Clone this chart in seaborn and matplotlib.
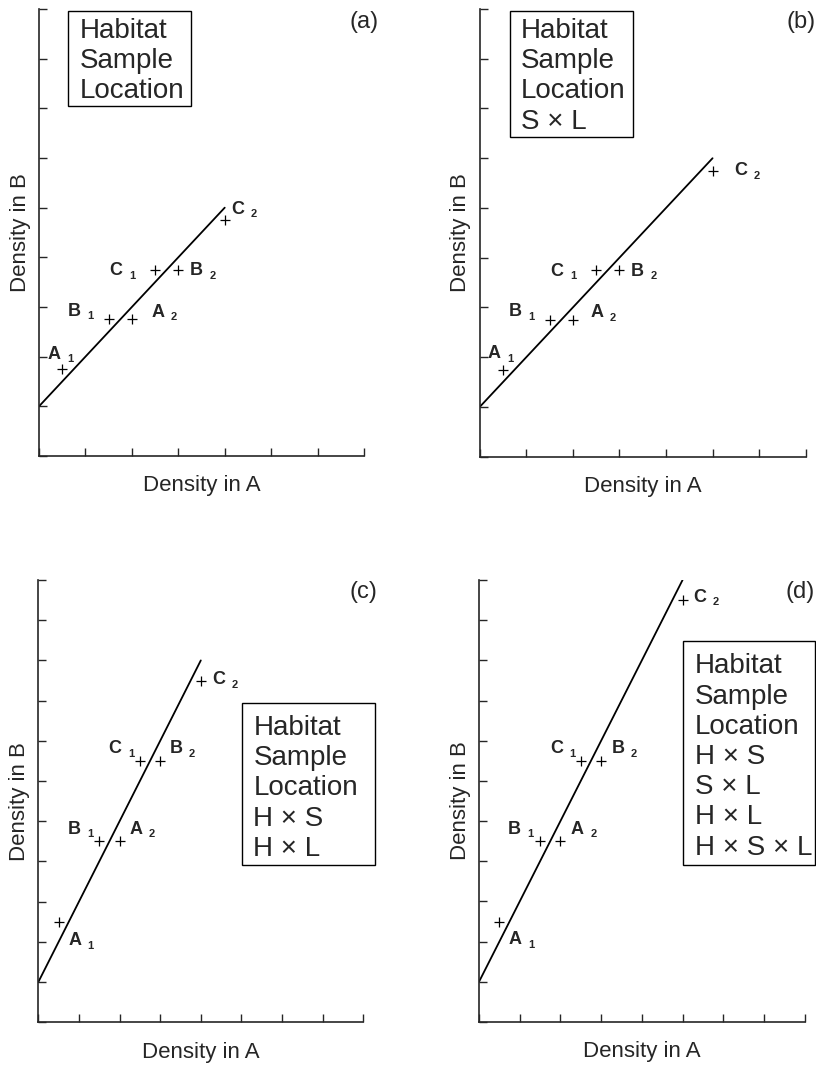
"""
four panels: density in B against density in A, with fitted line and the model terms
"""

import numpy as np
import pandas as pd
import matplotlib
matplotlib.use("Agg")
import matplotlib.pyplot as plt
from matplotlib.patches import Rectangle
import seaborn as sns

sns.set_style("ticks")
plt.rcParams["font.family"] = ["Liberation Sans", "DejaVu Sans"]

panels = ["a", "b", "c", "d"]
point_letters = ["A", "B", "A", "C", "B", "C"]
point_subs = ["1", "1", "2", "1", "2", "2"]

dens_a_a = [0.5, 1.5, 2.0, 2.5, 3.0, 4.0]
dens_b_a = [1.75, 2.75, 2.75, 3.75, 3.75, 4.75]
dens_a_b = [0.5, 1.5, 2.0, 2.5, 3.0, 5.0]
dens_b_b = [1.75, 2.75, 2.75, 3.75, 3.75, 5.75]
dens_a_c = [0.5, 1.5, 2.0, 2.5, 3.0, 4.0]
dens_b_c = [2.5, 4.5, 4.5, 6.5, 6.5, 8.5]
dens_a_d = [0.5, 1.5, 2.0, 2.5, 3.0, 5.0]
dens_b_d = [2.5, 4.5, 4.5, 6.5, 6.5, 10.5]

line_x_a = [0, 4]
line_y_a = [1, 5]
line_x_b = [0, 5]
line_y_b = [1, 6]
line_x_c = [0, 4]
line_y_c = [1, 9]
line_x_d = [0, 5]
line_y_d = [1, 11]

x_max = [7, 7, 8, 8]
y_max = [9, 9, 11, 11]

terms_a = ["Habitat", "Sample", "Location"]
terms_b = ["Habitat", "Sample", "Location", "S \u00d7 L"]
terms_c = ["Habitat", "Sample", "Location", "H \u00d7 S", "H \u00d7 L"]
terms_d = ["Habitat", "Sample", "Location", "H \u00d7 S", "S \u00d7 L", "H \u00d7 L",
           "H \u00d7 S \u00d7 L"]

dens_a = [dens_a_a, dens_a_b, dens_a_c, dens_a_d]
dens_b = [dens_b_a, dens_b_b, dens_b_c, dens_b_d]
line_x = [line_x_a, line_x_b, line_x_c, line_x_d]
line_y = [line_y_a, line_y_b, line_y_c, line_y_d]
terms = [terms_a, terms_b, terms_c, terms_d]

# layout (figure pixels / axes fractions)
W, H = 816, 1071
axes_px = [(39, 456, 325, 447), (479.7, 456.7, 326, 447.7),
           (38.3, 1022.3, 325, 442.3), (479, 1022, 325.7, 442)]
label_offsets = [
    [(-8, 15), (-34, 8), (26, 7), (-39, -1), (18, -1), (13, 11)],
    [(-9, 16), (-34, 8), (24, 7), (-39, -1), (18, -1), (28, 0)],
    [(16, -19), (-25, 12), (16, 12), (-25, 12), (16, 12), (18, 1)],
    [(16, -18), (-26, 12), (17, 12), (-24, 12), (17, 12), (17, 3)],
]
box_rects = [(0.089, 0.782, 0.380, 0.213), (0.092, 0.714, 0.378, 0.281),
             (0.626, 0.356, 0.410, 0.365), (0.626, 0.356, 0.407, 0.505)]
text_pos = [(0.126, 0.98), (0.126, 0.98), (0.662, 0.695), (0.662, 0.834)]
tag_x = [1.0, 0.985, 1.0, 0.986]

fig = plt.figure(figsize=(W / 100, H / 100), dpi=100)

for i, panel in enumerate(panels):
    left, bottom, width, height = axes_px[i]
    ax = fig.add_axes([left / W, 1 - bottom / H, width / W, height / H])

    df = pd.DataFrame({"x": dens_a[i], "y": dens_b[i]})
    sns.lineplot(x=line_x[i], y=line_y[i], ax=ax, color="black", linewidth=1.3)
    sns.scatterplot(data=df, x="x", y="y", ax=ax, marker="+", s=45,
                    color="black", linewidth=0.9)

    for j in range(len(point_letters)):
        dx, dy = label_offsets[i][j]
        ax.annotate(point_letters[j], xy=(dens_a[i][j], dens_b[i][j]), xytext=(dx, dy),
                    textcoords="offset pixels", ha="center", va="center",
                    fontsize=13, fontweight="bold")
        ax.annotate(point_subs[j], xy=(dens_a[i][j], dens_b[i][j]), xytext=(dx + 16, dy - 5),
                    textcoords="offset pixels", ha="center", va="center",
                    fontsize=8, fontweight="bold")

    ax.set_xlim(0, x_max[i])
    ax.set_ylim(0, y_max[i])
    ax.set_xticks(np.arange(0, x_max[i] + 1))
    ax.set_yticks(np.arange(0, y_max[i] + 1))
    ax.tick_params(direction="in", length=6, width=1, labelleft=False, labelbottom=False)
    sns.despine(ax=ax)
    for side in ["left", "bottom"]:
        ax.spines[side].set_linewidth(1.2)
    ax.set_xlabel("Density in A", fontsize=16, labelpad=14)
    ax.set_ylabel("Density in B", fontsize=16, labelpad=6)

    bx, by, bw, bh = box_rects[i]
    ax.add_patch(Rectangle((bx, by), bw, bh, transform=ax.transAxes, fill=False,
                           edgecolor="black", linewidth=1.0, clip_on=False))
    tx, ty = text_pos[i]
    ax.text(tx, ty, "\n".join(terms[i]), transform=ax.transAxes, ha="left", va="top",
            fontsize=20, linespacing=1.21)
    ax.text(tag_x[i], 0.972, "(" + panel + ")", transform=ax.transAxes,
            ha="center", va="center", fontsize=17)

plt.savefig("out.png", dpi=100)
